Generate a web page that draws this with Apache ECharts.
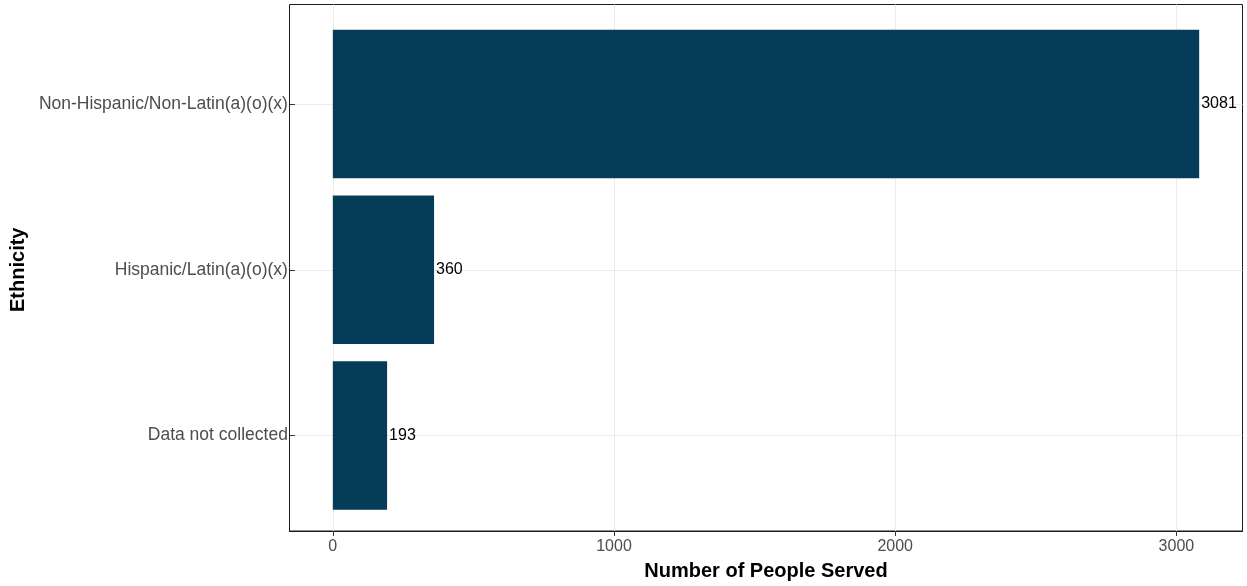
<!DOCTYPE html>
<html>
<head>
<meta charset="utf-8">
<script src="https://cdn.jsdelivr.net/npm/echarts@6/dist/echarts.min.js"></script>
<style>
html,body{margin:0;padding:0;background:#fff;}
#chart{width:1247px;height:586px;}
</style>
</head>
<body>
<div id="chart"></div>
<script>
const categories = ['Non-Hispanic/Non-Latin(a)(o)(x)', 'Hispanic/Latin(a)(o)(x)', 'Data not collected'];
const values = [3081, 360, 193];
const xTicks = [0, 1000, 2000, 3000];

const maxV = Math.max.apply(null, values);
const xMin = -0.05 * maxV;
const xMax = maxV * 1.05;

const chart = echarts.init(document.getElementById('chart'), null, {renderer: 'canvas'});
const font = '"Liberation Sans", Arial, sans-serif';

chart.setOption({
  animation: false,
  backgroundColor: '#ffffff',
  grid: [
    {left: 289.5, top: 4.5, width: 953, height: 528, show: true, borderColor: '#1a1a1a', borderWidth: 1, backgroundColor: 'transparent', containLabel: false},
    {left: 289.5, top: 104, width: 953, height: 331.5, containLabel: false},
    {left: 289.5, top: 104, width: 953, height: 331.5, containLabel: false}
  ],
  xAxis: [
    {
      type: 'value', gridIndex: 0, min: xMin, max: xMax, splitNumber: 3, position: 'bottom',
      axisLine: {show: true, onZero: false, lineStyle: {color: '#1a1a1a', width: 1}},
      axisTick: {show: true, length: 5, lineStyle: {color: '#333333', width: 1}, customValues: xTicks},
      axisLabel: {color: '#4D4D4D', fontSize: 16, fontFamily: font, margin: 8, customValues: xTicks,
        formatter: function (v) { return xTicks.indexOf(v) >= 0 ? String(v) : ''; }},
      splitLine: {show: true, lineStyle: {color: '#EBEBEB', width: 1}},
      name: 'Number of People Served', nameLocation: 'middle', nameGap: 30,
      nameTextStyle: {color: '#000000', fontSize: 20, fontWeight: 'bold', fontFamily: font}
    },
    {
      type: 'value', gridIndex: 1, min: xMin, max: xMax,
      show: false, splitLine: {show: false}
    },
    {
      type: 'value', gridIndex: 2, min: xMin, max: xMax,
      show: false, splitLine: {show: false}
    }
  ],
  yAxis: [
    {type: 'value', gridIndex: 0, show: false, splitLine: {show: false}},
    {
      type: 'category', gridIndex: 1, data: categories, inverse: true, boundaryGap: false,
      show: false
    },
    {
      type: 'category', gridIndex: 2, data: categories, inverse: true, boundaryGap: false, position: 'left',
      axisLine: {show: false, onZero: false},
      axisTick: {show: true, length: 5, lineStyle: {color: '#333333'}},
      axisLabel: {color: '#4D4D4D', fontSize: 17.5, fontFamily: font, margin: 7},
      splitLine: {show: true, lineStyle: {color: '#EBEBEB', width: 1}},
      name: 'Ethnicity', nameLocation: 'middle', nameRotate: 90, nameGap: 262,
      nameTextStyle: {color: '#000000', fontSize: 20, fontWeight: 'bold', fontFamily: font}
    }
  ],
  series: [{
    type: 'bar', xAxisIndex: 1, yAxisIndex: 1,
    data: values, barWidth: 148.5,
    itemStyle: {color: '#053C57'},
    label: {show: true, position: 'right', distance: 2, color: '#000000', fontSize: 16, fontFamily: font}
  }]
});
</script>
</body>
</html>
